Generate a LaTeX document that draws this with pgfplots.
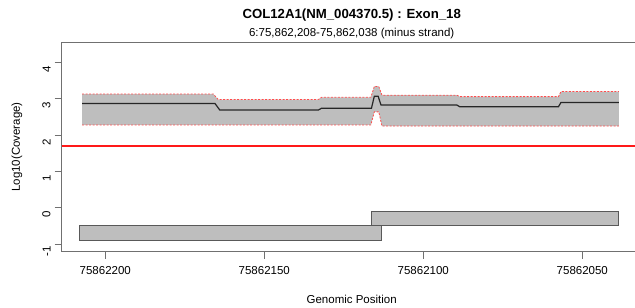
\documentclass[border=0pt]{standalone}
\usepackage{pgfplots}
\pgfplotsset{compat=1.18}
\usepackage{fontspec}
\setmainfont{Liberation Sans}
\newcommand\basefont{\fontsize{11.5}{13}\selectfont}
\definecolor{rgrey}{HTML}{BEBEBE}
\definecolor{axgrey}{HTML}{707070}

\begin{document}
\basefont
\begin{tikzpicture}[x=1pt,y=1pt]
\begin{axis}[
  at={(61.6pt,56.3pt)}, anchor=south west, scale only axis,
  width=580.2pt, height=209.4pt,
  xmin=31.29, xmax=213.74, x dir=reverse,
  ymin=-1.212, ymax=4.556,
  axis line style={axgrey, line width=0.8pt},
  xtick={200,150,100,50},
  xticklabels={75862200,75862150,75862100,75862050},
  ytick={-1,0,1,2,3,4},
  yticklabels={-1,0,1,2,3,4},
  tick align=outside, xtick pos=bottom, ytick pos=left,
  major tick length=7pt,
  tick style={axgrey, line width=0.8pt},
  every tick label/.append style={font=\basefont, text=black},
  xticklabel style={yshift=-4pt},
  yticklabel style={rotate=90, anchor=south, xshift=-7pt},
  xlabel={Genomic Position},
  ylabel={Log10(Coverage)},
  xlabel style={font=\basefont, at={(axis description cs:0.5,-0.226)}, anchor=center},
  ylabel style={font=\basefont, at={(axis description cs:-0.0769,0.5)}, anchor=center},
  clip=false,
]
% coverage band (upper forward, lower reversed)
\addplot[fill=rgrey, draw=none] coordinates {
 (207.3,3.13) (166,3.13) (164.5,2.98) (133,2.98) (132,3.04) (116.5,3.04)
 (115.4,3.34) (114,3.34) (113,3.10) (89.5,3.10) (88.5,3.06) (57.5,3.06)
 (56.7,3.20) (38.5,3.20)
 (38.5,2.25) (113,2.25) (114,2.64) (115.4,2.64) (116.5,2.28) (207.3,2.28)
} -- cycle;
% upper dashed
\addplot[red!70, line width=0.8pt, dash pattern=on 2pt off 1.5pt] coordinates {
 (207.3,3.13) (166,3.13) (164.5,2.98) (133,2.98) (132,3.04) (116.5,3.04)
 (115.4,3.34) (114,3.34) (113,3.10) (89.5,3.10) (88.5,3.06) (57.5,3.06)
 (56.7,3.20) (38.5,3.20)
};
% lower dashed
\addplot[red!70, line width=0.8pt, dash pattern=on 2pt off 1.5pt] coordinates {
 (207.3,2.28) (116.5,2.28) (115.4,2.64) (114,2.64) (113,2.25) (38.5,2.25)
};
% mean
\addplot[black!85, line width=1.2pt] coordinates {
 (207.3,2.87) (165.5,2.87) (164,2.69) (133,2.69) (132,2.74) (116.3,2.74)
 (115.4,3.07) (114.2,3.07) (113.3,2.83) (89.5,2.83) (88.5,2.78) (57.5,2.78)
 (56.7,2.90) (38.5,2.90)
};
% threshold
\addplot[red!90, line width=1.2pt] coordinates {(213.74,1.699) (31.29,1.699)};
% exon boxes
\addplot[fill=rgrey, draw=black!65, line width=0.8pt] coordinates {
 (208.2,-0.905) (113.2,-0.905) (113.2,-0.50) (208.2,-0.50)} -- cycle;
\addplot[fill=rgrey, draw=black!65, line width=0.8pt] coordinates {
 (116.2,-0.50) (38.5,-0.50) (38.5,-0.11) (116.2,-0.11)} -- cycle;
\end{axis}
\node[font=\bfseries\fontsize{13.2}{15}\selectfont] at (351.7,292.5) {COL12A1(NM\_004370.5) : Exon\_18};
\node[font=\basefont] at (351.7,274) {6:75,862,208-75,862,038 (minus strand)};
\pgfresetboundingbox
\useasboundingbox (0,0) rectangle (635,308);
\end{tikzpicture}
\end{document}
